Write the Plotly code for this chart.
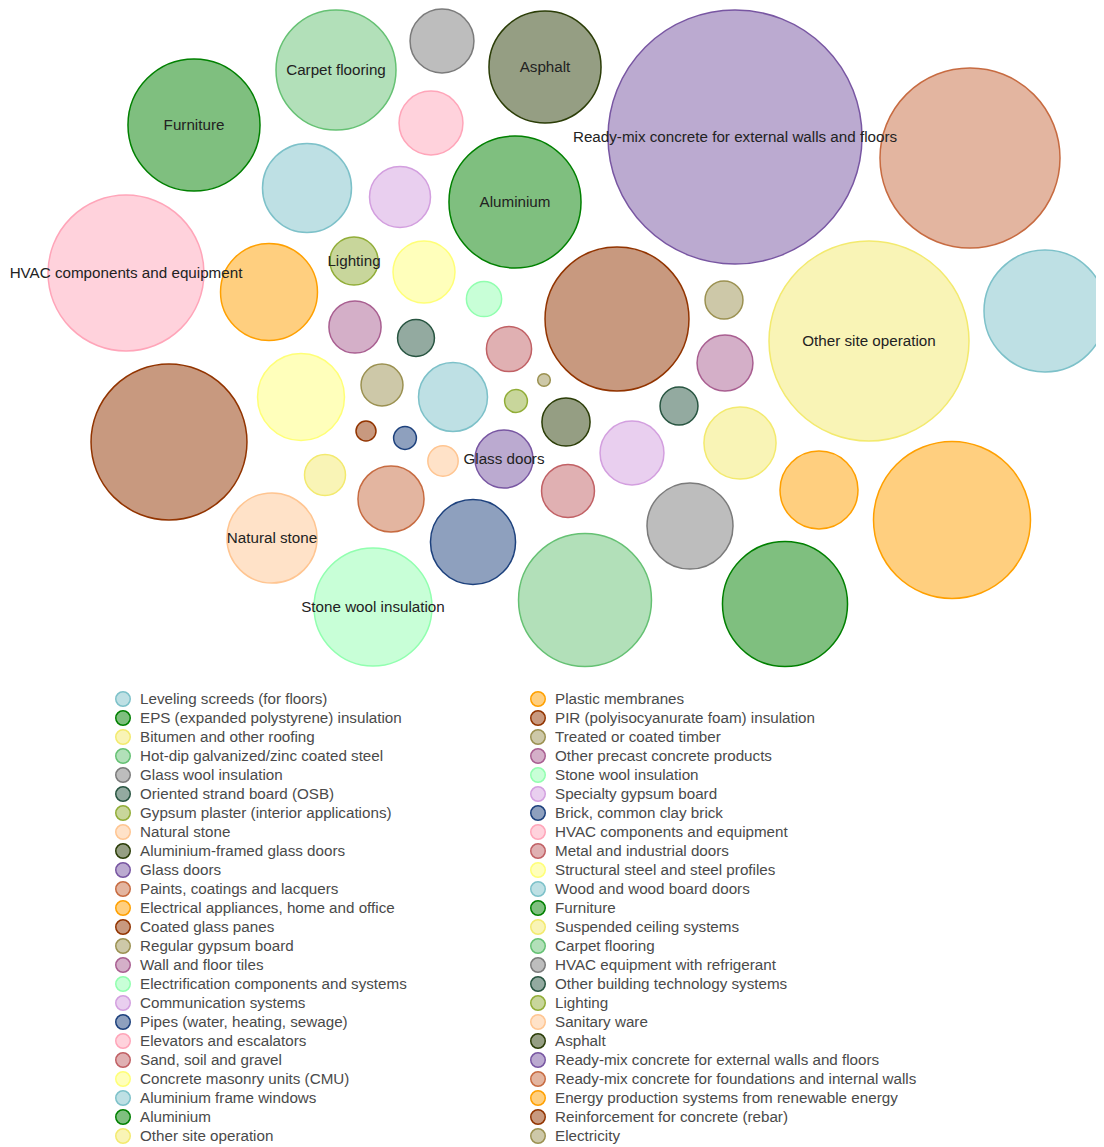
import plotly.graph_objects as go

# ---- data ----
categories = [
    "Leveling screeds (for floors)", "EPS (expanded polystyrene) insulation", "Bitumen and other roofing",
    "Hot-dip galvanized/zinc coated steel", "Glass wool insulation", "Oriented strand board (OSB)",
    "Gypsum plaster (interior applications)", "Natural stone", "Aluminium-framed glass doors", "Glass doors",
    "Paints, coatings and lacquers", "Electrical appliances, home and office", "Coated glass panes",
    "Regular gypsum board", "Wall and floor tiles", "Electrification components and systems",
    "Communication systems", "Pipes (water, heating, sewage)", "Elevators and escalators",
    "Sand, soil and gravel", "Concrete masonry units (CMU)", "Aluminium frame windows", "Aluminium",
    "Other site operation",
    "Plastic membranes", "PIR (polyisocyanurate foam) insulation", "Treated or coated timber",
    "Other precast concrete products", "Stone wool insulation", "Specialty gypsum board",
    "Brick, common clay brick", "HVAC components and equipment", "Metal and industrial doors",
    "Structural steel and steel profiles", "Wood and wood board doors", "Furniture",
    "Suspended ceiling systems", "Carpet flooring", "HVAC equipment with refrigerant",
    "Other building technology systems", "Lighting", "Sanitary ware", "Asphalt",
    "Ready-mix concrete for external walls and floors", "Ready-mix concrete for foundations and internal walls",
    "Energy production systems from renewable energy", "Reinforcement for concrete (rebar)", "Electricity",
]

values = [
    119, 391, 130, 442, 102, 34, 13, 203, 58, 84, 109, 235, 10, 44, 68, 31, 93, 13, 102, 51, 189, 372, 436, 1000,
    152, 518, 36, 78, 348, 102, 181, 608, 70, 96, 198, 436, 42, 360, 185, 36, 58, 23, 314, 1613, 810, 616, 608, 4,
]

# bubble-pack layout positions (layout units)
x_pos = [
    453, 785, 740, 585, 442, 416, 516, 272, 566, 504, 391, 269, 366, 382, 355, 484, 400, 405, 431, 509, 301, 1045, 515, 869,
    819, 617, 724, 725, 373, 632, 473, 126, 568, 424, 307, 194, 325, 336, 690, 679, 354, 443, 545, 735, 970, 952, 169, 544,
]
y_pos = [
    397, 604, 443, 600, 41, 338, 401, 538, 422, 459, 499, 292, 431, 385, 327, 299, 197, 438, 123, 349, 397, 311, 202, 341,
    490, 319, 300, 363, 607, 453, 542, 273, 491, 272, 188, 125, 475, 70, 526, 406, 261, 461, 67, 137, 158, 520, 442, 380,
]

color_keys = [
    "lightblue", "green", "paleyellow", "lightgreen", "grey", "dgg", "olive", "peach", "darkolive", "purple",
    "salmon", "orange", "brown", "tan", "mauve", "mint", "lavender", "navy", "pink", "rosy", "yellow",
    "lightblue", "green", "paleyellow",
    "orange", "brown", "tan", "mauve", "mint", "lavender", "navy", "pink", "rosy", "yellow", "lightblue",
    "green", "paleyellow", "lightgreen", "grey", "dgg", "olive", "peach", "darkolive", "purple", "salmon",
    "orange", "brown", "tan",
]

labeled = {
    "Natural stone", "Glass doors", "Aluminium", "Other site operation", "Stone wool insulation",
    "HVAC components and equipment", "Furniture", "Carpet flooring", "Lighting", "Asphalt",
    "Ready-mix concrete for external walls and floors",
}

palette = {
    "lightblue": (125, 193, 201),
    "green": (0, 128, 0),
    "paleyellow": (243, 234, 110),
    "lightgreen": (101, 193, 115),
    "grey": (123, 123, 123),
    "dgg": (40, 85, 65),
    "olive": (145, 173, 55),
    "peach": (255, 197, 145),
    "darkolive": (43, 61, 7),
    "purple": (120, 86, 162),
    "salmon": (199, 107, 65),
    "orange": (255, 160, 0),
    "brown": (146, 52, 0),
    "tan": (155, 145, 81),
    "mauve": (169, 95, 145),
    "mint": (145, 255, 175),
    "lavender": (211, 159, 223),
    "navy": (29, 65, 125),
    "pink": (255, 165, 185),
    "rosy": (193, 97, 101),
    "yellow": (255, 255, 119),
}

W, H = 1104, 1147
OFF = 8  # page margin of the HTML body
TXT_DY = 1.5  # baseline nudge for text
FONT = "Liberation Sans, Arial, sans-serif"


def rgba(key, a):
    r, g, b = palette[key]
    return f"rgba({r},{g},{b},{a})"


fills = [rgba(k, 0.5) for k in color_keys]
lines = [rgba(k, 1) for k in color_keys]

fig = go.Figure()

# bubbles (area proportional to value)
fig.add_trace(go.Scatter(
    x=x_pos, y=y_pos, mode="markers",
    marker=dict(size=values, sizemode="area", sizeref=0.05, color=fills, opacity=1,
                line=dict(color=lines, width=1.5)),
    text=categories, customdata=values,
    hovertemplate="%{text}: %{customdata}<extra></extra>",
    cliponaxis=False, showlegend=False,
))

# bubble labels
fig.add_trace(go.Scatter(
    x=x_pos, y=[v + TXT_DY for v in y_pos], mode="text",
    text=[c if c in labeled else "" for c in categories],
    textposition="middle center",
    textfont=dict(family=FONT, size=15.2, color="#222222"),
    hoverinfo="skip", cliponaxis=False, showlegend=False,
))

# legend (two columns, column-major)
n_rows = 24
leg_x0 = [123, 538]
leg_y0, leg_dy = 699, 19
leg_x = [leg_x0[i // n_rows] for i in range(len(categories))]
leg_y = [leg_y0 + leg_dy * (i % n_rows) for i in range(len(categories))]

fig.add_trace(go.Scatter(
    x=leg_x, y=leg_y, mode="markers",
    marker=dict(size=14.5, color=fills, opacity=1, line=dict(color=lines, width=1.5)),
    hoverinfo="skip", cliponaxis=False, showlegend=False,
))
fig.add_trace(go.Scatter(
    x=[v + 17 for v in leg_x], y=[v + TXT_DY for v in leg_y], mode="text", text=categories,
    textposition="middle right",
    textfont=dict(family=FONT, size=15.2, color="#4a4a4a"),
    hoverinfo="skip", cliponaxis=False, showlegend=False,
))

fig.update_layout(
    width=W, height=H,
    margin=dict(l=0, r=0, t=0, b=0),
    paper_bgcolor="white", plot_bgcolor="white",
    xaxis=dict(range=[OFF, W + OFF], visible=False, fixedrange=True),
    yaxis=dict(range=[H + OFF, OFF], visible=False, fixedrange=True),
    showlegend=False,
)

fig.write_html("out.html")
